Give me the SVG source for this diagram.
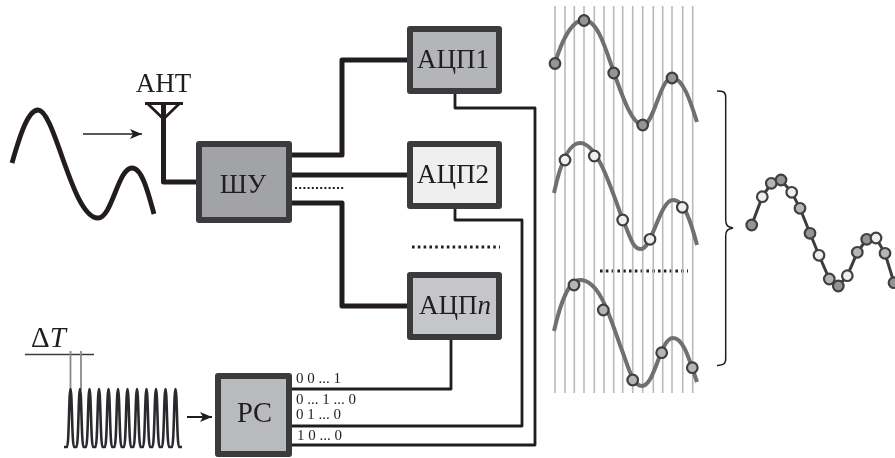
<svg xmlns="http://www.w3.org/2000/svg" width="895" height="458" viewBox="0 0 895 458">
<style>
svg>g{filter:url(#soft)}
text{font-family:"Liberation Serif","Times New Roman",serif;fill:#231f20}
.lbl{font-size:27px;text-anchor:middle}
.code{font-size:15px}
.box{stroke:#3a3a3c;stroke-width:6;stroke-linejoin:round}
.thick{fill:none;stroke:#231f20;stroke-width:5;stroke-linejoin:round}
.thin{fill:none;stroke:#231f20;stroke-width:2.8;stroke-linejoin:round}
.wave{fill:none;stroke:#6e6f71;stroke-width:4}
.grid line{stroke:#b9b9bc;stroke-width:1.6}
.pt{stroke:#3f3f41;stroke-width:2.2}
.d{fill:#939496}.m{fill:#b4b5b7}.w{fill:#eeeeef}
.dots{fill:none;stroke:#231f20;stroke-width:2.8;stroke-dasharray:2.6 3.2}
</style>
<defs>
<filter id="soft" x="-5%" y="-5%" width="110%" height="110%"><feGaussianBlur stdDeviation="0.45"/></filter>
<marker id="arrow" markerUnits="userSpaceOnUse" markerWidth="14" markerHeight="12" refX="12" refY="5" orient="auto"><path d="M0,0L12,5L0,10L3,5Z" fill="#231f20"/></marker>
</defs>
<g id="connectors">
<path class="thick" d="M163.500,103V182H198"/>
<path class="thick" d="M292,155H342V60H407"/>
<path class="thick" d="M292,175H407"/>
<path class="thick" d="M292,203H342V306H407"/>
<path class="thin" d="M455,94V108H535V445H292"/>
<path class="thin" d="M455,209V220H522V426H292"/>
<path class="thin" d="M451,340V389H292"/>
<path fill="none" stroke="#231f20" stroke-width="1.600" marker-end="url(#arrow)" d="M83,134H142"/>
<path fill="none" stroke="#231f20" stroke-width="2" marker-end="url(#arrow)" d="M187,417H212"/>
</g>
<g id="source-wave"><path fill="none" stroke="#231f20" stroke-width="4.800" d="M12,163C20,135 28,110 38,110C55,110 72,218 98,218C112,218 118,168 132,168C142,168 148,192 154,214"/></g>
<g id="antenna">
<path fill="none" stroke="#231f20" stroke-width="2.800" stroke-linejoin="round" d="M145,103.500H183M148,104L163.500,119L179,104"/>
<text class="lbl" x="163.500" y="92">АНТ</text>
</g>
<g id="shu"><rect class="box" x="199" y="144" width="90" height="76" fill="#a2a3a7"/><text class="lbl" x="243" y="193">ШУ</text></g>
<g id="adc1"><rect class="box" x="410" y="29" width="89" height="62" fill="#b4b5b9"/><text class="lbl" x="453" y="68">АЦП1</text></g>
<g id="adc2"><rect class="box" x="410" y="144" width="89" height="62" fill="#efeff0"/><text class="lbl" x="453" y="183">АЦП2</text></g>
<g id="adcn"><rect class="box" x="410" y="275" width="89" height="62" fill="#c5c6c8"/><text class="lbl" x="455" y="314">АЦП<tspan font-style="italic">n</tspan></text></g>
<g id="rs"><rect class="box" x="218" y="376" width="71" height="78" fill="#b9babc"/><text class="lbl" x="254.500" y="422" style="font-size:28.500px">РС</text></g>
<g id="dots">
<path class="dots" style="stroke-width:2;stroke-dasharray:2 2.200" d="M295,188H344"/>
<path class="dots" d="M412,247H500"/>
<path class="dots" d="M600,271H688"/>
</g>
<g id="codes">
<text class="code" x="296" y="383">0 0 ... 1</text>
<text class="code" x="296" y="404">0 ... 1 ... 0</text>
<text class="code" x="296" y="419">0 1 ... 0</text>
<text class="code" x="297" y="440">1 0 ... 0</text>
</g>
<g id="clock">
<text x="31" y="347" font-size="29"><tspan>Δ</tspan><tspan font-style="italic">T</tspan></text>
<path fill="none" stroke="#3a3a3c" stroke-width="1.400" d="M25,354.500H94"/>
<path fill="none" stroke="#8a8a8d" stroke-width="1.800" d="M70.500,351V390M81,351V390"/>
<path fill="none" stroke="#2c2c2e" stroke-width="2.600" stroke-linejoin="round" d="M64,447H67C69,447 69,389 70.500,389C72,389 72,447 74,447H76.500C78.500,447 78.500,389 80,389C81.500,389 81.500,447 83.500,447H86C88,447 88,389 89.500,389C91,389 91,447 93,447H95.500C97.500,447 97.500,389 99,389C100.500,389 100.500,447 102.500,447H105C107,447 107,389 108.500,389C110,389 110,447 112,447H114.500C116.500,447 116.500,389 118,389C119.500,389 119.500,447 121.500,447H124C126,447 126,389 127.500,389C129,389 129,447 131,447H133.500C135.500,447 135.500,389 137,389C138.500,389 138.500,447 140.500,447H143C145,447 145,389 146.500,389C148,389 148,447 150,447H152.500C154.500,447 154.500,389 156,389C157.500,389 157.500,447 159.500,447H162C164,447 164,389 165.500,389C167,389 167,447 169,447H172C174,447 174,389 175.500,389C177,389 177,447 179,447H182"/>
</g>
<g id="sampling-grid" class="grid">
<line x1="555" y1="6" x2="555" y2="393"/><line x1="565" y1="6" x2="565" y2="393"/><line x1="574.300" y1="6" x2="574.300" y2="393"/><line x1="584" y1="6" x2="584" y2="393"/><line x1="594.300" y1="6" x2="594.300" y2="393"/><line x1="604" y1="6" x2="604" y2="393"/><line x1="613.700" y1="6" x2="613.700" y2="393"/><line x1="622.700" y1="6" x2="622.700" y2="393"/><line x1="632.700" y1="6" x2="632.700" y2="393"/><line x1="642.700" y1="6" x2="642.700" y2="393"/><line x1="653.300" y1="6" x2="653.300" y2="393"/><line x1="662.700" y1="6" x2="662.700" y2="393"/><line x1="672" y1="6" x2="672" y2="393"/><line x1="682.700" y1="6" x2="682.700" y2="393"/><line x1="692.700" y1="6" x2="692.700" y2="393"/>
</g>
<g id="wave-1">
<path class="wave" d="M555,63C562,40 572,20 584,20C598,20 606,50 614,73C622,95 632,125 643,125C654,125 660,78 672,78C683,78 690,100 697,122"/>
<g class="d"><circle class="pt" cx="555" cy="63.500" r="5.300"/><circle class="pt" cx="584" cy="20.500" r="5.300"/><circle class="pt" cx="613.700" cy="73" r="5.300"/><circle class="pt" cx="642.700" cy="125" r="5.300"/><circle class="pt" cx="672" cy="78" r="5.300"/></g>
</g>
<g id="wave-2">
<path class="wave" d="M554,193C560,165 568,143 580,143C595,143 607,175 622,218C630,235 632,249 641,249C652,249 660,200 673,200C684,200 691,222 697,245"/>
<g class="w"><circle class="pt" cx="565" cy="160" r="5.300"/><circle class="pt" cx="594.300" cy="156" r="5.300"/><circle class="pt" cx="622.700" cy="220" r="5.300"/><circle class="pt" cx="650" cy="239.300" r="5.300"/><circle class="pt" cx="682.300" cy="207.300" r="5.300"/></g>
</g>
<g id="wave-3">
<path class="wave" d="M554,331C560,305 568,280 580,280C598,280 608,310 620,345C628,365 632,386 642,386C655,386 660,338 673,338C684,338 690,362 697,382"/>
<g class="m"><circle class="pt" cx="574" cy="285" r="5.300"/><circle class="pt" cx="603.300" cy="310" r="5.300"/><circle class="pt" cx="632.700" cy="380" r="5.300"/><circle class="pt" cx="661.700" cy="352.700" r="5.300"/><circle class="pt" cx="692.300" cy="367.700" r="5.300"/></g>
</g>
<g id="brace"><path fill="none" stroke="#231f20" stroke-width="1.500" d="M717,91C722,91 725.700,91 725.700,97V220C725.700,226 728,227 733,228C728,229 725.700,230 725.700,236V359C725.700,365 722,365 717,365.500"/></g>
<g id="combined-wave">
<polyline fill="none" stroke="#3d3d3f" stroke-width="3" points="751.700,225 762.300,196.700 771.300,183.300 781,180 791.700,192.300 800,208.300 810,233.300 819,255.300 829.300,279 838.300,286 847.300,275.700 857.300,252.300 866.700,239.300 876,238 885,253.300 894,282.700"/>
<circle class="pt d" cx="751.700" cy="225" r="5.300"/><circle class="pt w" cx="762.300" cy="196.700" r="5.300"/><circle class="pt m" cx="771.300" cy="183.300" r="5.300"/><circle class="pt d" cx="781" cy="180" r="5.300"/><circle class="pt w" cx="791.700" cy="192.300" r="5.300"/><circle class="pt m" cx="800" cy="208.300" r="5.300"/><circle class="pt d" cx="810" cy="233.300" r="5.300"/><circle class="pt w" cx="819" cy="255.300" r="5.300"/><circle class="pt m" cx="829.300" cy="279" r="5.300"/><circle class="pt d" cx="838.300" cy="286" r="5.300"/><circle class="pt w" cx="847.300" cy="275.700" r="5.300"/><circle class="pt m" cx="857.300" cy="252.300" r="5.300"/><circle class="pt d" cx="866.700" cy="239.300" r="5.300"/><circle class="pt w" cx="876" cy="238" r="5.300"/><circle class="pt m" cx="885" cy="253.300" r="5.300"/><circle class="pt d" cx="894" cy="282.700" r="5.300"/>
</g>
</svg>
